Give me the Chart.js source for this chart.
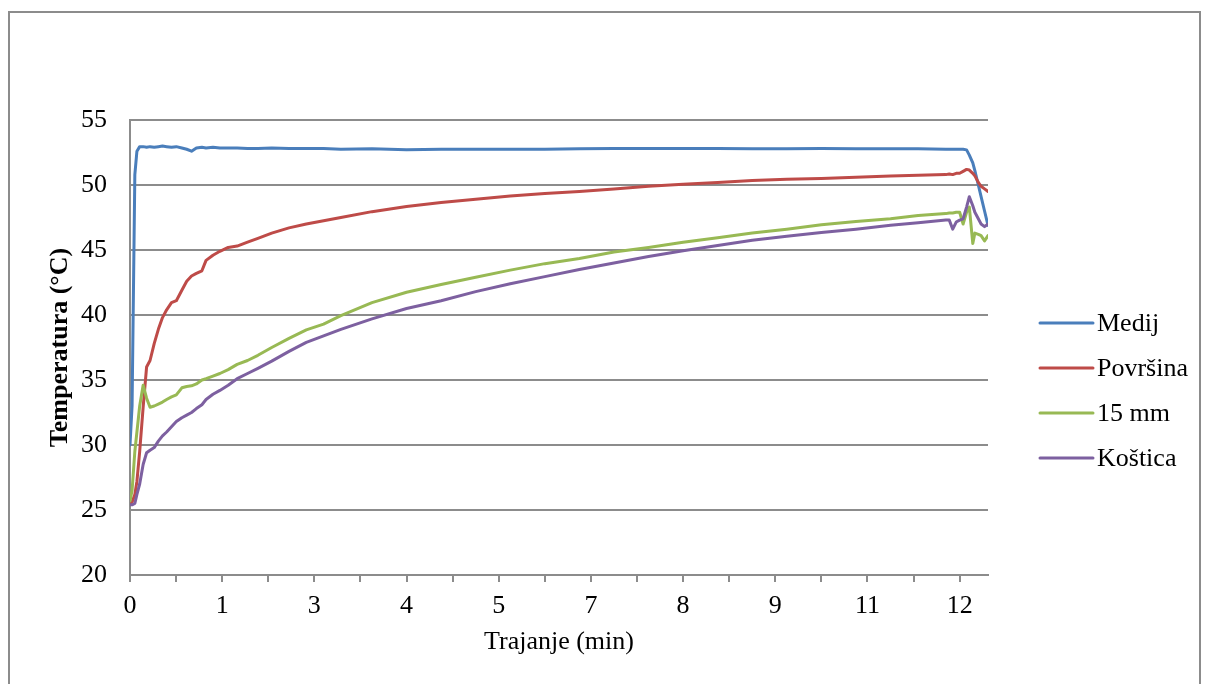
<!DOCTYPE html>
<html>
<head>
<meta charset="utf-8">
<script src="https://cdn.jsdelivr.net/npm/chart.js@4.4.1/dist/chart.umd.min.js"></script>
<style>
  html, body { margin: 0; padding: 0; background: #fff; overflow: hidden; }
  #frame {
    position: absolute; left: 8px; top: 11px; width: 1193px; height: 720px;
    border: 2px solid #8c8c8c; box-sizing: border-box;
  }
  #chart { position: absolute; left: 0; top: 0; }
</style>
</head>
<body>
<div id="frame"></div>
<canvas id="chart" width="1205" height="684"></canvas>
<script>
// time in minutes (shared by all four probes)
const minutes = [0, 0.03, 0.07, 0.1, 0.14, 0.19, 0.24, 0.29, 0.35, 0.41,
  0.47, 0.53, 0.6, 0.67, 0.75, 0.82, 0.89, 0.96, 1.04, 1.1,
  1.2, 1.3, 1.42, 1.55, 1.7, 1.85, 2.05, 2.3, 2.55, 2.8,
  3.05, 3.5, 4.0, 4.5, 5.0, 5.5, 6.0, 6.5, 7.0, 7.5,
  8.0, 8.5, 9.0, 9.5, 10.0, 10.5, 11.0, 11.4, 11.8, 11.85,
  11.9, 11.95, 12.0, 12.05, 12.1, 12.14, 12.19, 12.22, 12.27, 12.31,
  12.36, 12.41];

const medij = [30.0, 33.0, 50.8, 52.6, 52.95, 52.95, 52.9, 52.95, 52.9, 52.95,
  53.0, 52.95, 52.9, 52.95, 52.85, 52.75, 52.6, 52.85, 52.9, 52.85,
  52.9, 52.85, 52.85, 52.85, 52.8, 52.8, 52.85, 52.8, 52.8, 52.8,
  52.75, 52.78, 52.72, 52.75, 52.75, 52.75, 52.75, 52.78, 52.8, 52.8,
  52.8, 52.8, 52.78, 52.78, 52.8, 52.78, 52.78, 52.78, 52.75, 52.75,
  52.75, 52.75, 52.75, 52.75, 52.7, 52.3, 51.7, 51.1, 50.0, 49.1,
  48.0, 46.9];

const povrsina = [25.5, 25.6, 26.2, 27.2, 29.5, 32.9, 36.0, 36.5, 37.8, 38.9,
  39.8, 40.4, 40.95, 41.1, 41.9, 42.6, 43.0, 43.2, 43.4, 44.2,
  44.6, 44.9, 45.2, 45.3, 45.6, 45.9, 46.3, 46.7, 47.0, 47.25,
  47.5, 47.95, 48.35, 48.65, 48.9, 49.15, 49.35, 49.5, 49.7, 49.9,
  50.05, 50.2, 50.35, 50.45, 50.5, 50.6, 50.7, 50.75, 50.8, 50.85,
  50.8, 50.9, 50.9, 51.05, 51.2, 51.15, 50.9, 50.7, 50.2, 49.9,
  49.7, 49.5];

const mm15 = [25.7, 26.5, 29.5, 31.0, 33.0, 34.6, 33.6, 32.9, 33.0, 33.15,
  33.3, 33.5, 33.7, 33.85, 34.4, 34.5, 34.55, 34.7, 35.0, 35.1,
  35.3, 35.5, 35.8, 36.2, 36.5, 36.9, 37.5, 38.2, 38.85, 39.3,
  39.95, 40.95, 41.75, 42.35, 42.9, 43.45, 43.95, 44.35, 44.85, 45.2,
  45.6, 45.95, 46.3, 46.6, 46.95, 47.2, 47.4, 47.65, 47.8, 47.85,
  47.85, 47.9, 47.9, 47.0, 47.9, 48.3, 45.5, 46.3, 46.2, 46.1,
  45.7, 46.1];

const kostica = [25.4, 25.4, 25.5, 26.2, 27.0, 28.5, 29.4, 29.6, 29.8, 30.3,
  30.7, 31.0, 31.4, 31.8, 32.1, 32.3, 32.5, 32.8, 33.1, 33.5,
  33.9, 34.2, 34.6, 35.1, 35.5, 35.9, 36.45, 37.2, 37.9, 38.4,
  38.9, 39.7, 40.5, 41.1, 41.8, 42.4, 42.95, 43.5, 44.0, 44.5,
  44.95, 45.35, 45.75, 46.05, 46.35, 46.6, 46.9, 47.1, 47.3, 47.3,
  46.6, 47.15, 47.3, 47.4, 48.3, 49.1, 48.4, 47.9, 47.4, 47.0,
  46.8, 47.0];

const seriesNames = ['Medij', 'Površina', '15 mm', 'Koštica'];
const seriesColors = ['#4a7ebb', '#be4b48', '#98b954', '#7d60a0'];

// Excel-style category labels, one on every second tick mark (tick every 2/3 min)
const xTickLabels = ['0', '1', '3', '4', '5', '7', '8', '9', '11', '12'];
const yMin = 20, yMax = 55, yStep = 5;

const gray = '#8c8c8c';
const serif = '"Liberation Serif", "Times New Roman", serif';

function toPoints(values) {
    return values.map((v, i) => ({ x: minutes[i], y: v }));
}

const allSeries = [medij, povrsina, mm15, kostica];
const datasets = allSeries.map((vals, i) => ({
    label: seriesNames[i],
    data: toPoints(vals),
    borderColor: seriesColors[i],
    backgroundColor: seriesColors[i],
    borderWidth: 3,
    pointRadius: 0,
    tension: 0,
    borderCapStyle: 'round',
    borderJoinStyle: 'round',
    order: allSeries.length - i // later series on top, like Excel
}));

// legend drawn to the right of the plot, Excel style
const sideLegend = {
    id: 'sideLegend',
    afterDraw(chart) {
        const { ctx, chartArea } = chart;
        ctx.save();
        ctx.font = '26px ' + serif;
        ctx.textBaseline = 'middle';
        ctx.textAlign = 'left';
        chart.data.datasets.forEach((ds, i) => {
            const y = 323 + i * 45;
            const x = chartArea.right + 52;
            ctx.strokeStyle = ds.borderColor;
            ctx.lineWidth = 3;
            ctx.lineCap = 'round';
            ctx.beginPath();
            ctx.moveTo(x, y);
            ctx.lineTo(x + 53, y);
            ctx.stroke();
            ctx.fillStyle = '#000';
            ctx.fillText(ds.label, x + 57, y + 1);
        });
        ctx.restore();
    }
};

new Chart(document.getElementById('chart').getContext('2d'), {
    type: 'line',
    data: { datasets: datasets },
    plugins: [sideLegend],
    options: {
        responsive: false,
        animation: false,
        devicePixelRatio: 1,
        layout: { padding: { top: 120, right: 217, bottom: 0, left: 0 } },
        plugins: {
            legend: { display: false },
            tooltip: { enabled: false }
        },
        scales: {
            x: {
                type: 'linear',
                min: 0,
                max: 12.41,
                afterBuildTicks(scale) {
                    const t = [];
                    for (let k = 0; k <= (xTickLabels.length - 1) * 2; k++) {
                        t.push({ value: k * 2 / 3 });
                    }
                    scale.ticks = t;
                },
                afterFit(scale) { scale.height = 109; },
                ticks: {
                    autoSkip: false,
                    maxRotation: 0,
                    padding: 9,
                    color: '#000',
                    font: { family: serif, size: 26 },
                    callback: (value, index) => index % 2 === 0 ? xTickLabels[index / 2] : ''
                },
                grid: {
                    drawOnChartArea: false,
                    drawTicks: true,
                    tickLength: 7,
                    color: gray,
                    lineWidth: 2
                },
                border: { color: gray, width: 2 },
                title: {
                    display: true,
                    text: 'Trajanje (min)',
                    color: '#000',
                    font: { family: serif, size: 26 },
                    padding: { top: 0, bottom: 26 }
                }
            },
            y: {
                min: yMin,
                max: yMax,
                afterFit(scale) { scale.width = 130; },
                ticks: {
                    stepSize: yStep,
                    padding: 23,
                    color: '#000',
                    font: { family: serif, size: 26 }
                },
                grid: {
                    drawTicks: false,
                    color: gray,
                    lineWidth: 2
                },
                border: { color: gray, width: 2 },
                title: {
                    display: true,
                    text: 'Temperatura (°C)',
                    color: '#000',
                    font: { family: serif, size: 26, weight: 'bold' },
                    padding: { top: 45, bottom: 0 }
                }
            }
        }
    }
});
</script>
</body>
</html>
